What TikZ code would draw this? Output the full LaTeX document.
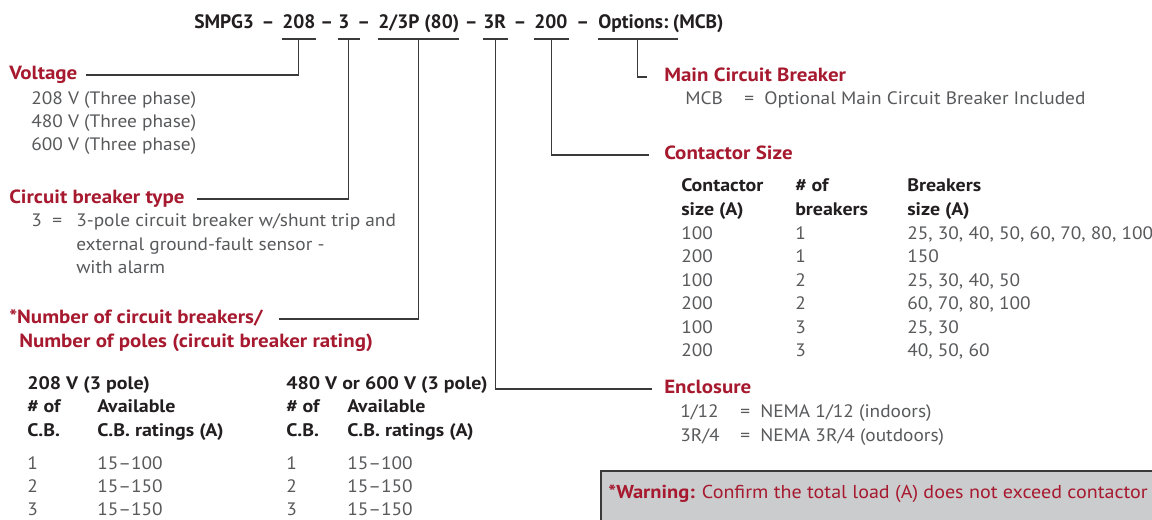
\documentclass[tikz,border=0pt]{standalone}
\usepackage{fontspec}
\setmainfont{PT Sans}
\newfontfamily\labelfont[FakeStretch=1.1]{PT Sans}
\newfontfamily\bodyfont[FakeStretch=1.075]{PT Sans}
\usetikzlibrary{calc}
\definecolor{crimson}{HTML}{A6192E}
\definecolor{bodygray}{HTML}{58595B}
\definecolor{ink}{HTML}{231F20}
\definecolor{rulegray}{HTML}{3A3A3A}
\definecolor{warnfill}{HTML}{CBCCCE}
\begin{document}
\begin{tikzpicture}[x=0.75pt,y=-0.75pt,
  txt/.style={anchor=west,inner sep=0pt,text height=0.7em,text depth=0pt},
  titlepart/.style={txt,font=\fontsize{14.6}{18}\selectfont\bfseries,text=ink},
  titledash/.style={titlepart,anchor=center},
  heading/.style={txt,font=\labelfont\fontsize{14.3}{17}\selectfont\bfseries,text=crimson},
  body/.style={txt,font=\bodyfont\fontsize{13.5}{16}\selectfont,text=bodygray},
  colhead/.style={txt,font=\labelfont\fontsize{13.6}{16}\selectfont\bfseries,text=ink},
  leader/.style={draw=rulegray,line width=0.9pt},
]
\useasboundingbox (0,0) rectangle (1152,519);

% ---- model code -------------------------------------------------------
\node[titlepart] (tsmpg) at (194,23.5) {SMPG3};
\node[titlepart] (t208)  at (282,23.5) {208};
\node[titlepart] (t3)    at (338,23.5) {3};
\node[titlepart] (tcb)   at (378,23.5) {2/3P (80)};
\node[titlepart] (t3r)   at (483,23.5) {3R};
\node[titlepart] (t200)  at (534,23.5) {200};
\node[titlepart] (topt)  at (598,23.5) {Options:};
\node[titlepart] (tmcb)  at ([xshift=3]topt.east) {(MCB)};
% separating dashes, centred in each gap
\foreach \l/\r [count=\i] in {tsmpg/t208,t208/t3,t3/tcb,tcb/t3r,t3r/t200,t200/topt}
  \node[titledash] (d\i) at ($(\l.east)!.5!(\r.west)$) {–};

% underline level
\coordinate (ul) at (0,39);

% ---- left column --------------------------------------------------------
\node[heading] (lvolt) at (9,75) {Voltage};
\node[body] (v1) at (31,100) {208 V (Three phase)};
\node[body] (v2) at (31,123) {480 V (Three phase)};
\node[body] (v3) at (31,146) {600 V (Three phase)};

\node[heading] (lcbt) at (9,199) {Circuit breaker type};
\node[body] (c0) at (31,222) {3};
\node[body] (ceq) at (52,222) {=};
\node[body] (c1) at (76,222) {3-pole circuit breaker w/shunt trip and};
\node[body] (c2) at (76,245.5) {external ground-fault sensor -};
\node[body] (c3) at (76,269) {with alarm};

\node[heading] (lnum) at (9,319) {*Number of circuit breakers/};
\node[heading] (lnum2) at (19,343) {Number of poles (circuit breaker rating)};

% 208 V table
\node[colhead] (a0) at (27,385) {208 V (3 pole)};
\node[colhead] (a1) at (27,408) {\# of};
\node[colhead] (a2) at (97,408) {Available};
\node[colhead] (a3) at (27,431.5) {C.B.};
\node[colhead] (a4) at (97,431.5) {C.B. ratings (A)};
\node[body] (ar1a) at (27,464.5) {1};
\node[body] (ar1b) at (97,464.5) {15–100};
\node[body] (ar2a) at (27,488) {2};
\node[body] (ar2b) at (97,488) {15–150};
\node[body] (ar3a) at (27,511) {3};
\node[body] (ar3b) at (97,511) {15–150};

% 480 V / 600 V table
\node[colhead] (b0) at (286,385) {480 V or 600 V (3 pole)};
\node[colhead] (b1) at (286,408) {\# of};
\node[colhead] (b2) at (347,408) {Available};
\node[colhead] (b3) at (286,431.5) {C.B.};
\node[colhead] (b4) at (347,431.5) {C.B. ratings (A)};
\node[body] (br1a) at (286,464.5) {1};
\node[body] (br1b) at (347,464.5) {15–100};
\node[body] (br2a) at (286,488) {2};
\node[body] (br2b) at (347,488) {15–150};
\node[body] (br3a) at (286,511) {3};
\node[body] (br3b) at (347,511) {15–150};

% ---- right column -------------------------------------------------------
\node[heading] (lmcb) at (664,77) {Main Circuit Breaker};
\node[body] (m0) at (685,100) {MCB};
\node[body] (meq) at (744,100) {=};
\node[body] (m1) at (764,100) {Optional Main Circuit Breaker Included};

\node[heading] (lcs) at (664,155) {Contactor Size};
\node[colhead] (h1) at (681,187) {Contactor};
\node[colhead] (h2) at (681,211) {size (A)};
\node[colhead] (h3) at (795,187) {\# of};
\node[colhead] (h4) at (795,211) {breakers};
\node[colhead] (h5) at (907,187) {Breakers};
\node[colhead] (h6) at (907,211) {size (A)};
\foreach \y/\cs/\nb/\bs [count=\i] in {
  234.5/100/1/{25, 30, 40, 50, 60, 70, 80, 100},
  258/200/1/150,
  281.5/100/2/{25, 30, 40, 50},
  305/200/2/{60, 70, 80, 100},
  328.5/100/3/{25, 30},
  352/200/3/{40, 50, 60}}{
  \node[body] (cs\i) at (681,\y) {\cs};
  \node[body] (nb\i) at (795,\y) {\nb};
  \node[body] (bs\i) at (907,\y) {\bs};
}

\node[heading] (lenc) at (664,389) {Enclosure};
\node[body] (e1a) at (680,413) {1/12};
\node[body] (e1b) at (740,413) {=};
\node[body] (e1c) at (760,413) {NEMA 1/12 (indoors)};
\node[body] (e2a) at (680,436.5) {3R/4};
\node[body] (e2b) at (740,436.5) {=};
\node[body] (e2c) at (760,436.5) {NEMA 3R/4 (outdoors)};

% ---- warning panel ------------------------------------------------------
\draw[draw=rulegray,line width=1.5pt,fill=warnfill] (601,471) rectangle (1175,540);
\node[txt,font=\bodyfont\fontsize{14}{16}\selectfont,text=crimson] (warn) at (608,494)
  {{\labelfont\bfseries *Warning:} Confirm the total load (A) does not exceed contactor};

% ---- underlines and leaders ---------------------------------------------
\foreach \p/\ext in {t208/0,t3/10,tcb/0,t3r/2,t200/1,topt/9}{
  \coordinate (\p-a) at (\p.west |- ul);
  \coordinate (\p-b) at ($(\p.east |- ul)+(\ext,0)$);
  \coordinate (\p-c) at ($(\p-a)!.5!(\p-b)$);
  \draw[leader] (\p-a) -- (\p-b);
}
\draw[leader] (t208-c) |- ([xshift=6]lvolt.east);
\draw[leader] (t3-c)   |- ([xshift=9]lcbt.east);
\draw[leader] (tcb-c)  |- ([xshift=12]lnum.east);
\draw[leader] (t3r-c)  |- ([xshift=-9]lenc.west);
\draw[leader] (t200-c) |- ([xshift=-11]lcs.west);
\draw[leader] (topt-c) |- ([xshift=-13]lmcb.west);
\end{tikzpicture}
\end{document}
